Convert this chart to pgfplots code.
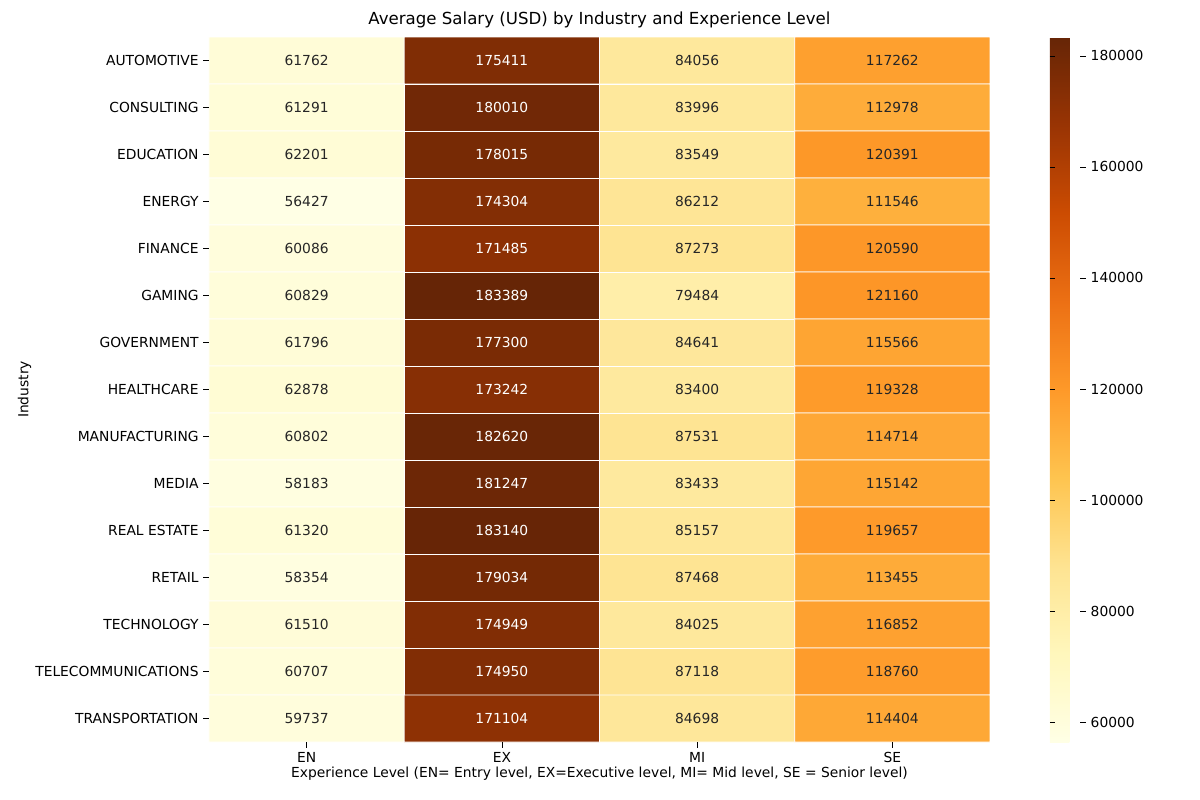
\documentclass[border=0pt]{standalone}
\usepackage{pgfplots}
\usepackage{pgfplotstable}
\pgfplotsset{compat=1.18}
\usepackage{fontspec}
\setmainfont{DejaVu Sans}
\pgfplotstableread{
x y z
0 0 61762
1 0 175411
2 0 84056
3 0 117262
0 1 61291
1 1 180010
2 1 83996
3 1 112978
0 2 62201
1 2 178015
2 2 83549
3 2 120391
0 3 56427
1 3 174304
2 3 86212
3 3 111546
0 4 60086
1 4 171485
2 4 87273
3 4 120590
0 5 60829
1 5 183389
2 5 79484
3 5 121160
0 6 61796
1 6 177300
2 6 84641
3 6 115566
0 7 62878
1 7 173242
2 7 83400
3 7 119328
0 8 60802
1 8 182620
2 8 87531
3 8 114714
0 9 58183
1 9 181247
2 9 83433
3 9 115142
0 10 61320
1 10 183140
2 10 85157
3 10 119657
0 11 58354
1 11 179034
2 11 87468
3 11 113455
0 12 61510
1 12 174949
2 12 84025
3 12 116852
0 13 60707
1 13 174950
2 13 87118
3 13 118760
0 14 59737
1 14 171104
2 14 84698
3 14 114404
}\datatable
\definecolor{dark}{RGB}{38,38,38}
\begin{document}
\begin{tikzpicture}
\useasboundingbox (-2.09in,-0.58in) rectangle (9.91in,7.42in);
\begin{axis}[
  at={(0,0)}, anchor=south west,
  scale only axis, width=7.81in, height=7.05in,
  font=\fontsize{10}{12}\selectfont,
  /pgf/number format/assume math mode=true,
  xmin=-0.5, xmax=3.5, ymin=-0.5, ymax=14.5, y dir=reverse,
  xtick={0,1,2,3}, xticklabels={EN,EX,MI,SE},
  ytick={0,...,14},
  yticklabels={AUTOMOTIVE,CONSULTING,EDUCATION,ENERGY,FINANCE,GAMING,GOVERNMENT,HEALTHCARE,MANUFACTURING,MEDIA,REAL ESTATE,RETAIL,TECHNOLOGY,TELECOMMUNICATIONS,TRANSPORTATION},
  axis line style={draw=none},
  tick style={black, thin}, major tick length=4pt,
  tick align=outside, xtick pos=bottom, ytick pos=left,
  title={Average Salary (USD) by Industry and Experience Level},
  title style={font=\fontsize{12}{14}\selectfont, yshift=-3pt},
  xlabel={Experience Level (EN= Entry level, EX=Executive level, MI= Mid level, SE = Senior level)},
  ylabel={Industry},
  xlabel style={yshift=4pt}, ylabel style={yshift=-4pt},
  colormap={ylorbr}{rgb255=(255,255,229) rgb255=(255,247,188) rgb255=(254,227,145) rgb255=(254,196,79) rgb255=(254,153,41) rgb255=(236,112,20) rgb255=(204,76,2) rgb255=(153,52,4) rgb255=(102,37,6)},
  point meta min=56427, point meta max=183389,
  colorbar,
  colorbar style={at={(parent axis.north east)}, anchor=north west, xshift=0.48in,
    width=0.36in, height=7.05in,
    ytick={60000,80000,100000,120000,140000,160000,180000},
    /pgf/number format/assume math mode=true,
    /pgf/number format/fixed, /pgf/number format/1000 sep={},
    scaled y ticks=false,
    axis line style={draw=none}, tick style={black,thin}, major tick length=4pt,
    font=\fontsize{10}{12}\selectfont},
]
\addplot[matrix plot, mesh/cols=4, point meta=explicit, draw=white, line width=0.5pt]
  table[x=x, y=y, meta=z] {\datatable};
\addplot[draw=none, mark=none, nodes near coords, point meta=explicit symbolic,
  every node near coord/.style={anchor=center, font=\fontsize{10}{12}\selectfont, text=dark},
  x filter/.expression={x==1 ? nan : x}]
  table[x=x, y=y, meta=z] {\datatable};
\addplot[draw=none, mark=none, nodes near coords, point meta=explicit symbolic,
  every node near coord/.style={anchor=center, font=\fontsize{10}{12}\selectfont, text=white},
  x filter/.expression={x==1 ? x : nan}]
  table[x=x, y=y, meta=z] {\datatable};
\end{axis}
\end{tikzpicture}
\end{document}
